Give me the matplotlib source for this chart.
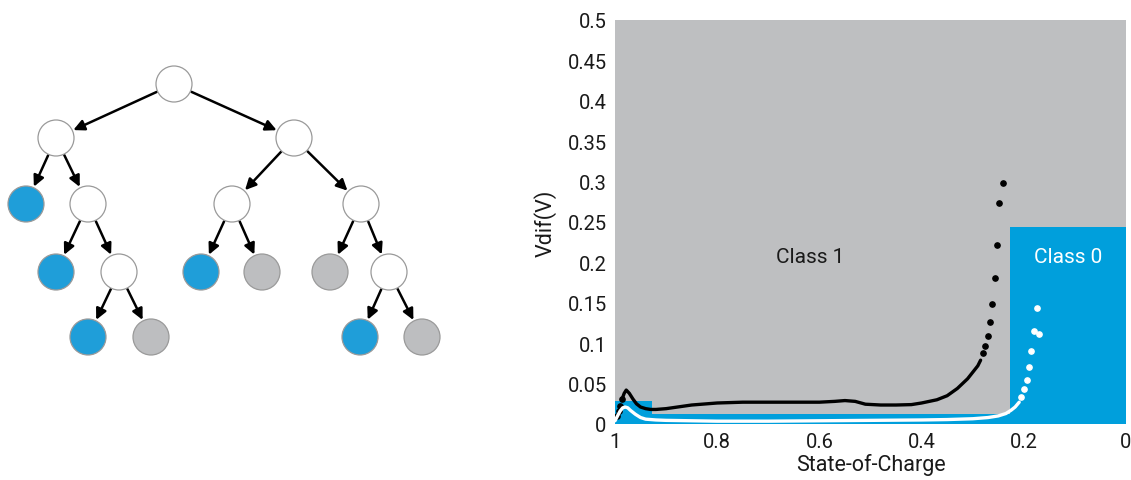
import matplotlib
matplotlib.use("Agg")
import matplotlib.pyplot as plt
from matplotlib.patches import Circle
from matplotlib.ticker import FuncFormatter

plt.rcParams["font.family"] = ["Roboto", "DejaVu Sans"]

BLUE_NODE = "#1f9ed9"
GREY_NODE = "#bdbec0"
BG_GREY = "#bebfc1"
CLASS0_BLUE = "#009fdc"

# ---- decision tree diagram (pixel layout of the left panel)
# node: (x, y, kind)  kind: w = split node, b = class 0 leaf, g = class 1 leaf
node_x = [174, 56, 294, 26, 88, 232, 361, 56, 119, 201, 262, 330, 389, 88, 151, 360, 422]
node_y = [85, 139, 139, 205, 205, 205, 205, 273, 273, 273, 273, 273, 273, 338, 338, 338, 338]
node_kind = ["w", "w", "w", "b", "w", "w", "w", "b", "w", "b", "g", "g", "w", "b", "g", "b", "g"]
node_parent = [None, 0, 0, 1, 1, 2, 2, 4, 4, 5, 5, 6, 6, 8, 8, 12, 12]
NODE_R = 18

# ---- state-of-charge classification panel
boundary_soc = [1.0, 0.927, 0.227, 0.0]
boundary_v = [0.029, 0.0124, 0.244, 0.244]

black_start_soc = [0.997, 0.993, 0.990, 0.986]
black_start_v = [0.0103, 0.016, 0.0227, 0.031]
black_line_soc = [0.986, 0.982, 0.978, 0.972, 0.965, 0.958, 0.95, 0.94, 0.93, 0.92, 0.90,
                  0.85, 0.80, 0.75, 0.70, 0.65, 0.60, 0.57, 0.55, 0.53, 0.51, 0.48, 0.45,
                  0.42, 0.40, 0.37, 0.35, 0.33, 0.31, 0.30, 0.29, 0.2845]
black_line_v = [0.031, 0.038, 0.042, 0.038, 0.031, 0.025, 0.021, 0.019, 0.018, 0.018, 0.019,
                0.0235, 0.026, 0.027, 0.027, 0.027, 0.027, 0.028, 0.029, 0.028, 0.0245, 0.0235, 0.0235,
                0.024, 0.026, 0.030, 0.035, 0.044, 0.056, 0.064, 0.072, 0.079]
black_dot_soc = [0.2805, 0.275, 0.2707, 0.266, 0.2616, 0.256, 0.252, 0.2485, 0.241]
black_dot_v = [0.0875, 0.0965, 0.109, 0.126, 0.149, 0.181, 0.221, 0.274, 0.298]

white_line_soc = [1.0, 0.995, 0.99, 0.985, 0.98, 0.975, 0.97, 0.96, 0.95, 0.94, 0.92, 0.90,
                  0.80, 0.70, 0.60, 0.50, 0.40, 0.35, 0.30, 0.27, 0.25, 0.235, 0.225, 0.217, 0.209]
white_line_v = [0.004, 0.010, 0.016, 0.020, 0.021, 0.020, 0.017, 0.012, 0.008, 0.006, 0.005, 0.0045,
                0.0035, 0.0035, 0.004, 0.0045, 0.005, 0.0055, 0.0065, 0.008, 0.010, 0.013, 0.017, 0.021, 0.027]
white_dot_soc = [0.2055, 0.199, 0.194, 0.189, 0.185, 0.181, 0.170, 0.175]
white_dot_v = [0.034, 0.043, 0.055, 0.0705, 0.090, 0.115, 0.112, 0.144]

y_ticks = [0, 0.05, 0.1, 0.15, 0.2, 0.25, 0.3, 0.35, 0.4, 0.45, 0.5]
x_ticks = [1, 0.8, 0.6, 0.4, 0.2, 0]

W, H = 1131, 481
fig = plt.figure(figsize=(W / 100, H / 100), dpi=100)

# ===================================================== tree
ax_t = fig.add_axes([0, 0, 543 / W, 1])
ax_t.set_xlim(0, 543)
ax_t.set_ylim(H, 0)
ax_t.axis("off")

colors = {"w": "white", "b": BLUE_NODE, "g": GREY_NODE}
for x, y, k in zip(node_x, node_y, node_kind):
    ax_t.add_patch(Circle((x, y), NODE_R, facecolor=colors[k],
                          edgecolor="#9a9a9a", lw=0.9, zorder=3))
shrink = (NODE_R + 1) * 0.72
for i, p in enumerate(node_parent):
    if p is None:
        continue
    ax_t.annotate("", xy=(node_x[i], node_y[i]), xytext=(node_x[p], node_y[p]),
                  arrowprops=dict(arrowstyle="-|>,head_length=0.65,head_width=0.32",
                                  color="black", lw=1.8,
                                  shrinkA=shrink, shrinkB=shrink),
                  zorder=2)

# ===================================================== SOC panel
ax = fig.add_axes([615 / W, 1 - 425 / H, 511 / W, 404 / H])
ax.set_facecolor(BG_GREY)
ax.fill_between(boundary_soc, 0, boundary_v, step="post",
                color=CLASS0_BLUE, lw=0, zorder=1)

ax.plot(black_line_soc, black_line_v, color="black", lw=2.4,
        solid_capstyle="round", zorder=3)
ax.plot(black_start_soc, black_start_v, "o", color="black", ms=3.8, zorder=3)
ax.plot(black_dot_soc, black_dot_v, "o", color="black", ms=3.8, zorder=3)
ax.plot(white_line_soc, white_line_v, color="white", lw=2.4,
        solid_capstyle="round", zorder=3)
ax.plot(white_dot_soc, white_dot_v, "o", color="white", ms=3.8, zorder=3)

ax.text(0.618, 0.207, "Class 1", ha="center", va="center", fontsize=15,
        color="#1a1a1a")
ax.text(0.1135, 0.207, "Class 0", ha="center", va="center", fontsize=15,
        color="white")

ax.set_xlim(1, 0)
ax.set_ylim(0, 0.5)
ax.set_xticks(x_ticks)
ax.set_yticks(y_ticks)
fmt = FuncFormatter(lambda v, _: f"{v:g}")
ax.xaxis.set_major_formatter(fmt)
ax.yaxis.set_major_formatter(fmt)
ax.tick_params(length=0, labelsize=14.5, pad=6, colors="#1a1a1a")
for s in ax.spines.values():
    s.set_visible(False)
ax.set_xlabel("State-of-Charge", fontsize=15.5, labelpad=1, color="#1a1a1a")
ax.set_ylabel("Vdif(V)", fontsize=15.5, labelpad=8, color="#1a1a1a")

fig.savefig("out.png", dpi=100)
